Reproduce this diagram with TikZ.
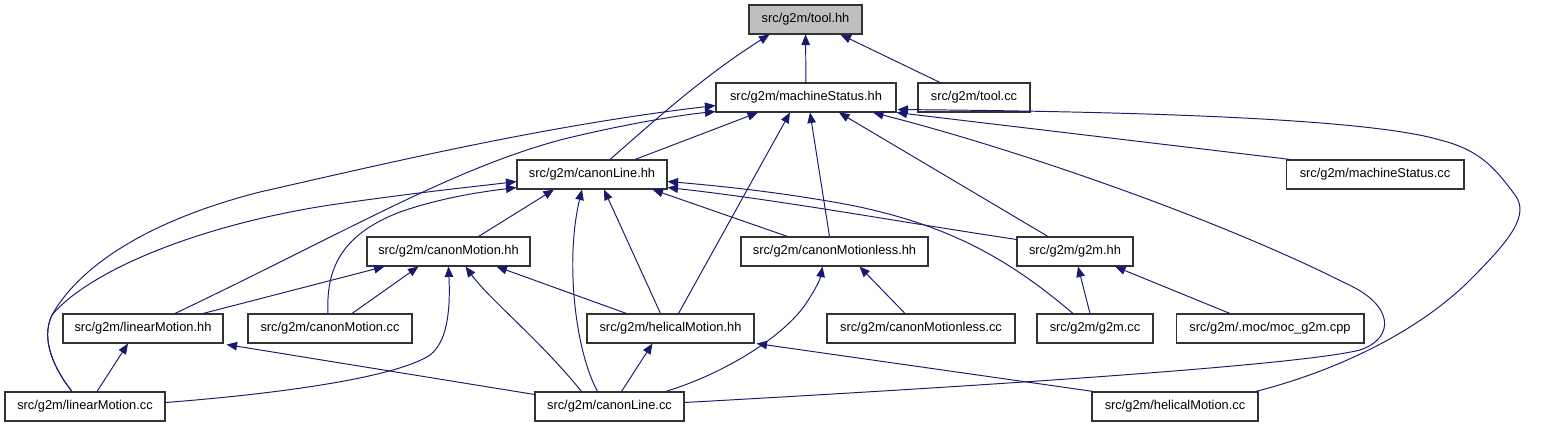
\documentclass[tikz,border=0pt]{standalone}
\usepackage{fontspec}
\setmainfont{Liberation Sans}
\usepackage{tikz}
\usetikzlibrary{arrows.meta, calc}
\definecolor{depblue}{HTML}{191970}

\begin{document}
\begin{tikzpicture}[
    x=0.02cm, y=-0.02cm,
    file/.style={draw=black!80, fill=white, line width=0.6pt, minimum height=0.58cm, inner sep=0pt, font=\fontsize{7.3}{9}\selectfont},
    focus/.style={file, fill=black!25},
    dep/.style={-{Triangle[length=0.21cm, width=0.17cm]}, depblue, line width=0.55pt}
]
    \useasboundingbox (0,0) rectangle (1556,427);

    % Top two rows
    \node[focus, minimum width=2.26cm] (toolhh) at (805.5,19.5) {src/g2m/tool.hh};
    \node[file, minimum width=3.60cm] (msh) at (806,97.5) {src/g2m/machineStatus.hh};
    \node[file, minimum width=2.24cm] (toolcc) at (974,97.5) {src/g2m/tool.cc};
    \node[file, minimum width=3.00cm] (clh) at (592,174.5) {src/g2m/canonLine.hh};
    \node[file, minimum width=3.56cm] (mscc) at (1375,174.5) {src/g2m/machineStatus.cc};

    % Middle rows
    \node[file, minimum width=3.26cm] (cmh) at (448.5,251.5) {src/g2m/canonMotion.hh};
    \node[file, minimum width=3.74cm] (cmlh) at (834.5,251.5) {src/g2m/canonMotionless.hh};
    \node[file, minimum width=2.32cm] (g2mh) at (1075,251.5) {src/g2m/g2m.hh};
    \node[file, minimum width=3.20cm] (lmh) at (143,328.5) {src/g2m/linearMotion.hh};
    \node[file, minimum width=3.28cm] (cmcc) at (330,328.5) {src/g2m/canonMotion.cc};
    \node[file, minimum width=3.34cm] (hmh) at (670.5,328.5) {src/g2m/helicalMotion.hh};
    \node[file, minimum width=3.76cm] (cmlcc) at (921,328.5) {src/g2m/canonMotionless.cc};
    \node[file, minimum width=2.32cm] (g2mcc) at (1095,328.5) {src/g2m/g2m.cc};
    \node[file, minimum width=3.76cm] (moc) at (1270,328.5) {src/g2m/.moc/moc\_g2m.cpp};

    % Bottom row
    \node[file, minimum width=3.20cm] (lmcc) at (85,406.5) {src/g2m/linearMotion.cc};
    \node[file, minimum width=2.98cm] (clcc) at (609.5,406.5) {src/g2m/canonLine.cc};
    \node[file, minimum width=3.32cm] (hmcc) at (1175,406.5) {src/g2m/helicalMotion.cc};

    % Into tool.hh
    \draw[dep] (msh) -- (toolhh);
    \draw[dep] ($(toolcc.north)+(-34,0)$) -- ($(toolhh.south)+(35,0)$);
    \draw[dep] ($(clh.north)+(18,0)$) .. controls (655,120) and (705,75) .. ($(toolhh.south)+(-36,0)$);

    % Into machineStatus.hh
    \draw[dep] ($(clh.north)+(43,0)$) -- ($(msh.south)+(-48,0)$);
    \draw[dep] ($(mscc.north west)+(5,0)$) -- ($(msh.south east)+(0,0)$);
    \draw[dep] ($(cmlh.north)+(-5,0)$) -- ($(msh.south)+(4,0)$);
    \draw[dep] ($(hmh.north)+(8,0)$) -- ($(msh.south)+(-16,0)$);
    \draw[dep] ($(g2mh.north)+(-27,0)$) -- ($(msh.south)+(33,0)$);
    \draw[dep] ($(clcc.east)+(0,-4)$) .. controls (1000,385) and (1300,365) .. (1360,350)
        .. controls (1395,338) and (1395,305) .. (1345,283)
        .. controls (1220,220) and (1020,150) .. ($(msh.south)+(67,0)$);
    \draw[dep] ($(hmcc.north east)+(-3,0)$) .. controls (1340,370) and (1420,330) .. (1470,280)
        .. controls (1510,240) and (1530,215) .. (1515,195)
        .. controls (1495,168) and (1480,150) .. (1440,140)
        .. controls (1380,122) and (1200,112) .. ($(msh.south east)+(1,-3)$);
    \draw[dep] ($(lmcc.north)+(-13,0)$) .. controls (55,370) and (40,340) .. (52,315)
        .. controls (80,265) and (150,220) .. (260,192)
        .. controls (400,160) and (550,125) .. ($(msh.west)+(0,8)$);
    \draw[dep] ($(lmh.north)+(32,0)$) .. controls (350,230) and (450,170) .. (560,140)
        .. controls (620,125) and (680,115) .. ($(msh.south west)+(0,-1)$);

    % Into canonLine.hh
    \draw[dep] ($(cmh.north)+(30,0)$) -- ($(clh.south)+(-38,0)$);
    \draw[dep] ($(cmlh.north)+(-47,0)$) -- ($(clh.south east)+(-15,0)$);
    \draw[dep] ($(g2mh.north west)+(0,3)$) .. controls (900,222) and (780,200) .. ($(clh.east)+(0,13)$);
    \draw[dep] ($(g2mcc.north)+(-22,0)$) .. controls (1010,260) and (950,225) .. (850,205)
        .. controls (780,192) and (720,186) .. ($(clh.east)+(0,7)$);
    \draw[dep] ($(lmcc.north)+(-13,0)$) .. controls (55,370) and (40,340) .. (52,315)
        .. controls (90,270) and (200,225) .. (330,205)
        .. controls (420,192) and (480,186) .. ($(clh.west)+(0,7)$);
    \draw[dep] ($(cmcc.north)+(-2,0)$) .. controls (326,270) and (340,235) .. (400,212)
        .. controls (440,198) and (480,192) .. ($(clh.west)+(0,13)$);
    \draw[dep] ($(hmh.north)+(-10,0)$) -- ($(clh.south)+(12,0)$);
    \draw[dep] ($(clcc.north)+(-12,0)$) .. controls (575,350) and (565,260) .. ($(clh.south)+(-10,0)$);

    % Into canonMotion.hh
    \draw[dep] ($(lmh.north)+(60,0)$) -- ($(cmh.south west)+(18,0)$);
    \draw[dep] ($(cmcc.north)+(22,0)$) -- ($(cmh.south)+(-30,0)$);
    \draw[dep] ($(hmh.north west)+(40,0)$) -- ($(cmh.south)+(48,0)$);
    \draw[dep] ($(clcc.north)+(-28,0)$) .. controls (540,340) and (490,300) .. ($(cmh.south)+(17,0)$);
    \draw[dep] ($(lmcc.east)+(0,-4)$) .. controls (300,392) and (400,375) .. (430,355)
        .. controls (450,340) and (450,300) .. ($(cmh.south)+(0,0)$);

    % Into canonMotionless.hh and g2m.hh
    \draw[dep] ($(clcc.north east)+(-19,0)$) .. controls (720,375) and (780,340) .. (805,305)
        .. controls (815,290) and (820,280) .. ($(cmlh.south)+(-12,0)$);
    \draw[dep] ($(cmlcc.north)+(-16,0)$) -- ($(cmlh.south)+(25,0)$);
    \draw[dep] ($(g2mcc.north)+(-5,0)$) -- ($(g2mh.south)+(3,0)$);
    \draw[dep] ($(moc.north)+(-40,0)$) -- ($(g2mh.south)+(40,0)$);

    % Into linearMotion.hh and helicalMotion.hh
    \draw[dep] ($(lmcc.north)+(12,0)$) -- ($(lmh.south)+(-15,0)$);
    \draw[dep] ($(clcc.north west)+(0,3)$) -- ($(lmh.south east)+(3,1)$);
    \draw[dep] ($(clcc.north)+(12,0)$) -- ($(hmh.south)+(-18,0)$);
    \draw[dep] ($(hmcc.north west)+(2,0)$) -- ($(hmh.south east)+(2,0)$);
\end{tikzpicture}
\end{document}
